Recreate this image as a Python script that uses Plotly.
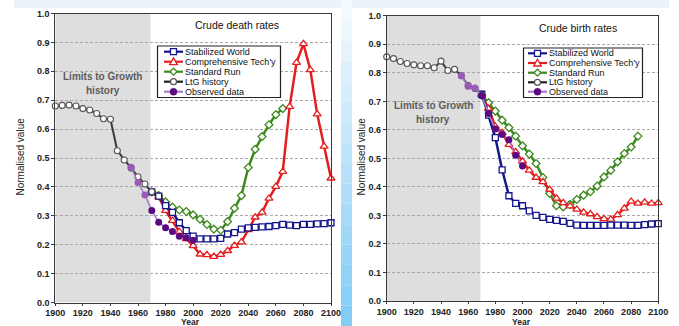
import plotly.graph_objects as go

W, H = 679, 326

# ---------------- data ----------------
years_ltg = list(range(1900, 1975, 5))
years_obs = list(range(1955, 2005, 5))
years_scn = list(range(1970, 2105, 5))

# Crude death rates (normalised)
death_ltg = [0.680, 0.682, 0.683, 0.680, 0.671, 0.666, 0.654, 0.636, 0.634,
             0.525, 0.493, 0.465, 0.435, 0.410, 0.383]
death_obs = [0.468, 0.415, 0.372, 0.318, 0.278, 0.259, 0.246, 0.229, 0.224, 0.215]
death_stab = [0.383, 0.368, 0.335, 0.312, 0.276, 0.249, 0.230, 0.220, 0.220, 0.220,
              0.222, 0.237, 0.242, 0.254, 0.258, 0.260, 0.262, 0.263, 0.266, 0.270,
              0.268, 0.266, 0.270, 0.270, 0.272, 0.273, 0.276]
death_tech = [0.383, 0.365, 0.318, 0.283, 0.245, 0.220, 0.196, 0.167, 0.165, 0.159,
              0.166, 0.179, 0.197, 0.209, 0.251, 0.295, 0.312, 0.360, 0.401, 0.453,
              0.678, 0.830, 0.895, 0.805, 0.652, 0.540, 0.430]
death_std = [0.383, 0.370, 0.348, 0.330, 0.320, 0.315, 0.303, 0.288, 0.270, 0.254,
             0.250, 0.280, 0.326, 0.370, 0.467, 0.530, 0.574, 0.615, 0.650, 0.671]

# Crude birth rates (normalised)
birth_ltg = [0.856, 0.850, 0.840, 0.833, 0.828, 0.825, 0.825, 0.818, 0.841,
             0.808, 0.812, 0.790, 0.755, 0.745, 0.722]
birth_obs = [0.790, 0.753, 0.747, 0.720, 0.657, 0.603, 0.584, 0.565, 0.511, 0.473]
birth_stab = [0.725, 0.652, 0.573, 0.460, 0.369, 0.342, 0.334, 0.316, 0.300, 0.293,
              0.286, 0.283, 0.279, 0.272, 0.266, 0.265, 0.265, 0.265, 0.265, 0.266,
              0.266, 0.266, 0.265, 0.265, 0.268, 0.270, 0.271]
birth_tech = [0.722, 0.675, 0.612, 0.590, 0.548, 0.523, 0.490, 0.458, 0.433, 0.418,
              0.391, 0.360, 0.344, 0.333, 0.321, 0.311, 0.305, 0.295, 0.288, 0.286,
              0.302, 0.325, 0.349, 0.342, 0.346, 0.342, 0.344]
birth_std = [0.722, 0.695, 0.666, 0.634, 0.608, 0.578, 0.544, 0.515, 0.482, 0.433,
             0.377, 0.334, 0.330, 0.339, 0.356, 0.371, 0.383, 0.403, 0.435, 0.458,
             0.488, 0.517, 0.540, 0.578]

history_end = 1969
series_names = ["Stabilized World", "Comprehensive Tech'y", "Standard Run",
                "LtG history", "Observed data"]
x_ticks = list(range(1900, 2101, 20))

# ---------------- styles ----------------
NAVY = "#16168c"
RED = "#e41e1e"
GREEN = "#3c8a1e"
GREY = "#555555"
PURPLE = "#5a0a80"
PURPLE_LIGHT = "#9a58b8"
PURPLE_LINE = "#a57cc6"
FONT = "Liberation Sans, Arial, sans-serif"


def px(x):
    return x / W


def py(y):
    return 1 - y / H


fig = go.Figure()

panels = [
    dict(xa="x", ya="y", ltg=death_ltg, obs=death_obs, stab=death_stab,
         tech=death_tech, std=death_std),
    dict(xa="x2", ya="y2", ltg=birth_ltg, obs=birth_obs, stab=birth_stab,
         tech=birth_tech, std=birth_std),
]

for p in panels:
    common = dict(xaxis=p["xa"], yaxis=p["ya"], mode="lines+markers",
                  cliponaxis=False, showlegend=False, hoverinfo="x+y")
    fig.add_trace(go.Scatter(x=years_scn[:len(p["std"])], y=p["std"], name=series_names[2],
                             line=dict(color=GREEN, width=2.5),
                             marker=dict(symbol="diamond", size=6, color="white",
                                         line=dict(color=GREEN, width=1.3)), **common))
    fig.add_trace(go.Scatter(x=years_scn, y=p["tech"], name=series_names[1],
                             line=dict(color=RED, width=2.5),
                             marker=dict(symbol="triangle-up", size=7, color="white",
                                         line=dict(color=RED, width=1.3)), **common))
    fig.add_trace(go.Scatter(x=years_scn, y=p["stab"], name=series_names[0],
                             line=dict(color=NAVY, width=2.5),
                             marker=dict(symbol="square", size=6, color="white",
                                         line=dict(color=NAVY, width=1.3)), **common))
    fig.add_trace(go.Scatter(x=years_ltg, y=p["ltg"], name=series_names[3],
                             line=dict(color="#3a3a3a", width=2),
                             marker=dict(symbol="circle", size=6, color="white",
                                         line=dict(color=GREY, width=1.1)), **common))
    obs_colors = [PURPLE_LIGHT if yr <= history_end else PURPLE for yr in years_obs]
    fig.add_trace(go.Scatter(x=years_obs, y=p["obs"], name=series_names[4],
                             line=dict(color=PURPLE_LINE, width=1.5),
                             marker=dict(symbol="circle", size=7, color=obs_colors), **common))

# ---------------- axes ----------------
axis_common = dict(showline=True, linecolor="#3a3a3a", linewidth=1, mirror=True,
                   ticks="outside", ticklen=3, tickcolor="#3a3a3a", automargin=False,
                   tickfont=dict(family=FONT, size=9, color="#222", weight="bold"),
                   zeroline=False)
xa = dict(range=[1900, 2100], tickvals=x_ticks, showgrid=False, **axis_common)
xa["ticklen"] = 2
ya = dict(range=[0, 1], dtick=0.1, tickformat=".1f", showgrid=True,
          gridcolor="#a8a8a8", griddash="3px,2px", gridwidth=1, **axis_common)

fig.update_layout(
    template="none",
    width=W, height=H, margin=dict(l=0, r=0, t=0, b=0, pad=0, autoexpand=False),
    paper_bgcolor="white", plot_bgcolor="white",
    xaxis=dict(domain=[px(55.3), px(331.0)], anchor="y", **xa),
    yaxis=dict(domain=[py(302.5), py(13.5)], anchor="x", **ya),
    xaxis2=dict(domain=[px(386.7), px(658.3)], anchor="y2", **xa),
    yaxis2=dict(domain=[py(301.0), py(15.8)], anchor="x2", **ya),
    font=dict(family=FONT, color="#111"),
    showlegend=False,
)

shapes = []
annotations = []

# page background bands
shapes.append(dict(type="rect", xref="paper", yref="paper", x0=px(14), x1=px(341),
                   y0=py(8), y1=1, fillcolor="#eaf2fa", line_width=0, layer="below"))
shapes.append(dict(type="rect", xref="paper", yref="paper", x0=px(352), x1=px(669),
                   y0=py(8), y1=1, fillcolor="#eaf2fa", line_width=0, layer="below"))
# vertical blue gradient strip between the two panels
n_seg = 16
top_rgb = (244, 250, 255)
bot_rgb = (130, 204, 246)
for i in range(n_seg):
    t = i / (n_seg - 1)
    c = tuple(int(round(a + (b - a) * t)) for a, b in zip(top_rgb, bot_rgb))
    shapes.append(dict(type="rect", xref="paper", yref="paper", x0=px(341), x1=px(352),
                       y0=py(H * (i + 1) / n_seg), y1=py(H * i / n_seg),
                       fillcolor="rgb(%d,%d,%d)" % c, line_width=0, layer="below"))

# shaded historical period
for xr, yr in (("x", "y"), ("x2", "y2")):
    shapes.append(dict(type="rect", xref=xr, yref=yr, x0=1900, x1=history_end,
                       y0=0, y1=1, fillcolor="#dedede", line_width=0, layer="below"))


def text(x, y, s, size=10, bold=False, color="#111", angle=0):
    annotations.append(dict(xref="paper", yref="paper", x=px(x), y=py(y), text=s,
                            showarrow=False, xanchor="center", yanchor="middle",
                            textangle=angle, borderpad=0,
                            font=dict(family=FONT, size=size, color=color,
                                      weight="bold" if bold else "normal")))


text(236.7, 25.5, "Crude death rates", size=10.5)
text(577.7, 28.0, "Crude birth rates", size=10.5)
text(103, 77, "Limits to Growth", size=10, bold=True, color="#5c5c5c")
text(103, 91, "history", size=10, bold=True, color="#5c5c5c")
text(433.5, 105.5, "Limits to Growth", size=10, bold=True, color="#5c5c5c")
text(433.5, 119.5, "history", size=10, bold=True, color="#5c5c5c")
text(19.5, 157, "Normalised value", size=10, color="#222", angle=-90)
text(360.5, 157, "Normalised value", size=10, color="#222", angle=-90)
text(190, 321.8, "Year", size=8.5, bold=True, color="#222")
text(521, 321.8, "Year", size=8.5, bold=True, color="#222")


# compact legends drawn with shapes and text
def marker_shape(kind, cx, cy, color):
    s = 3.0
    if kind == "square":
        return dict(type="rect", x0=px(cx - s), x1=px(cx + s), y0=py(cy + s), y1=py(cy - s),
                    fillcolor="white", line=dict(color=color, width=1.3))
    if kind == "circle":
        return dict(type="circle", x0=px(cx - s), x1=px(cx + s), y0=py(cy + s), y1=py(cy - s),
                    fillcolor="white", line=dict(color=color, width=1.2))
    if kind == "dot":
        s = 3.5
        return dict(type="circle", x0=px(cx - s), x1=px(cx + s), y0=py(cy + s), y1=py(cy - s),
                    fillcolor=color, line=dict(color=color, width=0.5))
    if kind == "triangle":
        pts = [(cx, cy - 3.8), (cx + 3.8, cy + 3.0), (cx - 3.8, cy + 3.0)]
    else:  # diamond
        pts = [(cx, cy - 3.5), (cx + 3.5, cy), (cx, cy + 3.5), (cx - 3.5, cy)]
    path = "M " + " L ".join("%.5f,%.5f" % (px(a), py(b)) for a, b in pts) + " Z"
    return dict(type="path", path=path, fillcolor="white", line=dict(color=color, width=1.3))


legend_items = [
    (series_names[0], NAVY, NAVY, "square"),
    (series_names[1], RED, RED, "triangle"),
    (series_names[2], GREEN, GREEN, "diamond"),
    (series_names[3], "#222222", GREY, "circle"),
    (series_names[4], PURPLE_LINE, PURPLE, "dot"),
]


def add_legend(box, rows, lx0, lx1, tx):
    x0, y0, x1, y1 = box
    shapes.append(dict(type="rect", xref="paper", yref="paper", x0=px(x0), x1=px(x1),
                       y0=py(y1), y1=py(y0), fillcolor="white",
                       line=dict(color="#222", width=1.2), layer="above"))
    for (name, lc, mc, kind), ry in zip(legend_items, rows):
        shapes.append(dict(type="line", xref="paper", yref="paper", x0=px(lx0), x1=px(lx1),
                           y0=py(ry), y1=py(ry), line=dict(color=lc, width=2.2),
                           layer="above"))
        m = marker_shape(kind, (lx0 + lx1) / 2, ry, mc)
        m.update(xref="paper", yref="paper", layer="above")
        shapes.append(m)
        annotations.append(dict(xref="paper", yref="paper", x=px(tx), y=py(ry), text=name,
                                showarrow=False, xanchor="left", yanchor="middle",
                                borderpad=0,
                                font=dict(family=FONT, size=9, color="#111")))


add_legend((157.5, 46, 280.5, 97.5), [51.7, 61.7, 71.7, 81.7, 91.7], 164, 183, 183.5)
add_legend((523.5, 48, 642.5, 97.5), [53.3, 63.0, 72.7, 82.3, 91.7], 528, 547, 547.5)

fig.update_layout(shapes=shapes, annotations=annotations)

fig.write_html("out.html")
